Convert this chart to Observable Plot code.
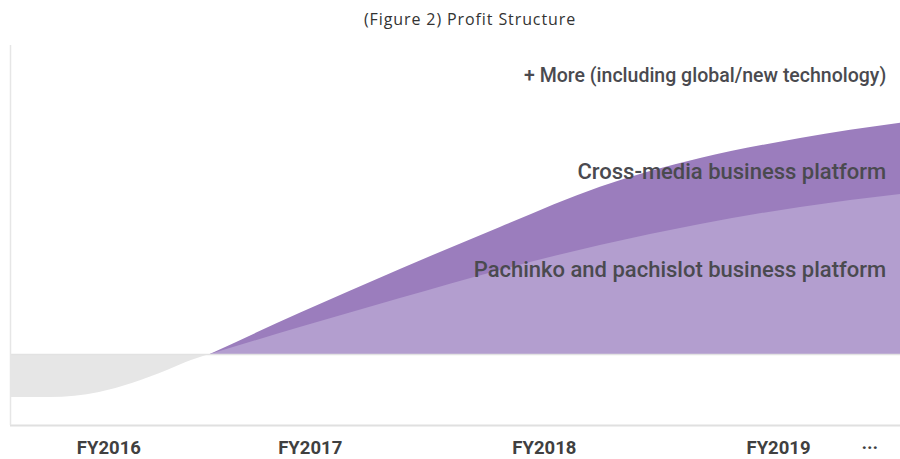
<!DOCTYPE html>
<html>
<head>
<meta charset="utf-8">
<script src="https://cdn.jsdelivr.net/npm/d3@7"></script>
<script src="https://cdn.jsdelivr.net/npm/@observablehq/plot@0.6"></script>
<style>
  html, body { margin: 0; padding: 0; background: #fff; }
  #title {
    height: 36px; box-sizing: border-box; padding-top: 9px; padding-left: 40px;
    text-align: center; font-family: "Open Sans", sans-serif; font-size: 16px;
    line-height: 20px; letter-spacing: 0.9px; color: #333;
  }
</style>
</head>
<body>
<div id="title">(Figure 2) Profit Structure</div>
<div id="chart"></div>
<script>
// Profit phase (fiscal-year position) and stacked segment values
const years = [2016.573, 2016.957, 2017.385, 2017.812, 2018.239, 2018.667, 2019.094, 2019.521];
const pachinko = [0, 8.7, 18.1, 27.2, 35.3, 42.1, 47.6, 51.8];
const crossMedia = [0, 4.6, 9.4, 13.9, 18.8, 21.3, 22.3, 23.0];

// Initial loss phase
const lossYears = [2015.72, 2015.89, 2016.10, 2016.24, 2016.39, 2016.47, 2016.573];
const lossValues = [-13.9, -13.9, -12.3, -9.4, -5.2, -2.6, 0];

// Axis ticks
const tickValues = [2016.14, 2017, 2018, 2019, 2019.39];
const tickLabels = ["FY2016", "FY2017", "FY2018", "FY2019", "···"];

// Series labels
const seriesLabels = [
  "+ More (including global/new technology)",
  "Cross-media business platform",
  "Pachinko and pachislot business platform"
];
const labelValues = [90.3, 59.2, 27.2];
const labelSizes = [19.5, 22, 22];

const xDomain = [2015.72, 2019.521];
const yDomain = [-23, 100];

const profit = years.map((x, i) => ({x, pachinko: pachinko[i], cross: crossMedia[i]}));
const loss = lossYears.map((x, i) => ({x, v: lossValues[i]}));
const ticks = tickValues.map((x, i) => ({x, label: tickLabels[i]}));
const labels = seriesLabels.map((t, i) => ({t, v: labelValues[i], s: labelSizes[i]}));

const chart = Plot.plot({
  width: 900,
  height: 423,
  marginLeft: 10,
  marginRight: 0,
  marginTop: 9,
  marginBottom: 34,
  style: {fontFamily: "Roboto, sans-serif", background: "#fff"},
  x: {domain: xDomain, axis: null},
  y: {domain: yDomain, axis: null},
  marks: [
    Plot.areaY(loss, {x: "x", y1: 0, y2: "v", fill: "#e6e6e6", curve: "monotone-x"}),
    Plot.areaY(profit, {x: "x", y1: 0, y2: d => d.pachinko + d.cross, fill: "#9b7dbd", curve: "monotone-x"}),
    Plot.areaY(profit, {x: "x", y1: 0, y2: "pachinko", fill: "#b39ecf", curve: "monotone-x"}),
    Plot.ruleY([0], {stroke: "#e2e2e2", strokeWidth: 1.5}),
    Plot.ruleY([yDomain[0]], {stroke: "#e0e0e0", strokeWidth: 2}),
    Plot.ruleX([xDomain[0]], {stroke: "#e6e6e6", strokeWidth: 1.5}),
    ...labels.map(l => Plot.text([l], {
      x: 2019.46, y: "v", text: "t", textAnchor: "end",
      fontSize: l.s, fontWeight: 500, fill: "#4a4a4f"
    })),
    Plot.text(ticks, {
      x: "x", frameAnchor: "bottom", dy: 28, text: "label",
      fontSize: 18.5, fontWeight: 700, fill: "#404040"
    })
  ]
});
document.getElementById("chart").appendChild(chart);
</script>
</body>
</html>
